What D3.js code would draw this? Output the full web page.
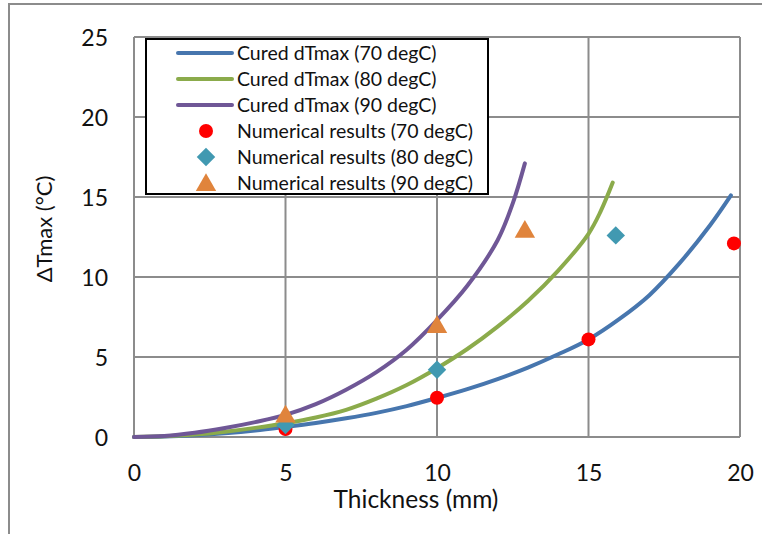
<!DOCTYPE html>
<html>
<head>
<meta charset="utf-8">
<script src="https://cdn.jsdelivr.net/npm/d3@7"></script>
<style>
  body { margin: 0; background: #fff; }
  text { font-family: Lato, "Open Sans", sans-serif; fill: #111; }
</style>
</head>
<body>
<svg id="chart" width="762" height="534"></svg>
<script>
// curve data (thickness in mm, dTmax in degC)
var thick70 = [0, 1, 2, 3, 4, 5, 6, 7, 8, 9, 10, 11, 12, 13, 14, 15, 16, 17, 18, 19, 19.7];
var cured70 = [0, 0.03, 0.11, 0.23, 0.4, 0.63, 0.88, 1.17, 1.51, 1.93, 2.44, 2.99, 3.62, 4.34, 5.17, 6.1, 7.35, 8.85, 10.85, 13.2, 15.1];

var thick80 = [0, 1, 2, 3, 4, 5, 6, 7, 8, 9, 10, 11, 12, 13, 14, 15, 15.4, 15.8];
var cured80 = [0, 0.04, 0.15, 0.33, 0.57, 0.86, 1.22, 1.7, 2.4, 3.25, 4.3, 5.5, 6.9, 8.5, 10.4, 12.7, 14.1, 15.9];

var thick90 = [0, 1, 2, 3, 4, 5, 6, 7, 8, 9, 10, 11, 12, 12.5, 12.9];
var cured90 = [0, 0.06, 0.26, 0.56, 0.93, 1.38, 2.05, 2.95, 4.05, 5.45, 7.3, 9.45, 12.3, 14.6, 17.1];

// numerical results
var numX70 = [5, 10, 15, 19.8];
var numY70 = [0.5, 2.45, 6.1, 12.1];
var numX80 = [5, 10, 15.9];
var numY80 = [0.75, 4.2, 12.6];
var numX90 = [5, 10, 12.9];
var numY90 = [1.4, 7.0, 12.95];

var xTicks = [0, 5, 10, 15, 20];
var yTicks = [0, 5, 10, 15, 20, 25];

var legendNames = [
    "Cured dTmax (70 degC)",
    "Cured dTmax (80 degC)",
    "Cured dTmax (90 degC)",
    "Numerical results (70 degC)",
    "Numerical results (80 degC)",
    "Numerical results (90 degC)"
];

var svg = d3.select("#chart");

// outer chart frame
svg.append("rect")
    .attr("x", 9).attr("y", 4)
    .attr("width", 780).attr("height", 560)
    .attr("fill", "none")
    .attr("stroke", "#8c8c8c")
    .attr("stroke-width", 2);

var plotLeft = 134, plotRight = 740, plotTop = 37, plotBottom = 437;

var x = d3.scaleLinear().domain([0, 20]).range([plotLeft, plotRight]);
var y = d3.scaleLinear().domain([0, 25]).range([plotBottom, plotTop]);

// gridlines
svg.append("g").selectAll("line")
    .data(xTicks).enter().append("line")
    .attr("x1", function(d) { return x(d); })
    .attr("x2", function(d) { return x(d); })
    .attr("y1", plotTop).attr("y2", plotBottom)
    .attr("stroke", "#8c8c8c").attr("stroke-width", 2);

svg.append("g").selectAll("line")
    .data(yTicks).enter().append("line")
    .attr("y1", function(d) { return y(d); })
    .attr("y2", function(d) { return y(d); })
    .attr("x1", plotLeft).attr("x2", plotRight)
    .attr("stroke", "#8c8c8c").attr("stroke-width", 2);

// axes (labels only, the lines come from the grid)
var xAxis = svg.append("g")
    .attr("transform", "translate(0," + plotBottom + ")")
    .call(d3.axisBottom(x).tickValues(xTicks).tickSize(0).tickPadding(28));
var yAxis = svg.append("g")
    .attr("transform", "translate(" + plotLeft + ",0)")
    .call(d3.axisLeft(y).tickValues(yTicks).tickSize(0).tickPadding(26));
[xAxis, yAxis].forEach(function(a) {
    a.select(".domain").remove();
    a.selectAll("text")
        .style("font-family", "Lato, sans-serif")
        .style("font-size", "23px")
        .attr("fill", "#111");
});
yAxis.selectAll("text").attr("dy", "0.36em");

// axis titles
svg.append("text")
    .attr("x", 416).attr("y", 508)
    .attr("text-anchor", "middle")
    .style("font-size", "24.5px")
    .text("Thickness (mm)");

svg.append("text")
    .attr("transform", "translate(52,229) rotate(-90)")
    .attr("text-anchor", "middle")
    .style("font-size", "22px")
    .text("\u0394Tmax (\u00B0C)");

// curves
var line = d3.line()
    .x(function(d) { return x(d[0]); })
    .y(function(d) { return y(d[1]); })
    .curve(d3.curveCatmullRom.alpha(0.5));

var curves = [
    { xs: thick70, ys: cured70, color: "#4776ae" },
    { xs: thick80, ys: cured80, color: "#8bab4b" },
    { xs: thick90, ys: cured90, color: "#6f5796" }
];

curves.forEach(function(c) {
    svg.append("path")
        .datum(d3.zip(c.xs, c.ys))
        .attr("d", line)
        .attr("fill", "none")
        .attr("stroke", c.color)
        .attr("stroke-width", 4)
        .attr("stroke-linecap", "round");
});

// markers
var red = "#ff0000", teal = "#4199b1", orange = "#e0843c";
var diamond = d3.symbol().type(d3.symbolSquare).size(170);
var triangle = d3.symbol().type(d3.symbolTriangle).size(180);

svg.append("g").selectAll("circle")
    .data(d3.zip(numX70, numY70)).enter().append("circle")
    .attr("cx", function(d) { return x(d[0]); })
    .attr("cy", function(d) { return y(d[1]); })
    .attr("r", 7)
    .attr("fill", red);

svg.append("g").selectAll("path")
    .data(d3.zip(numX80, numY80)).enter().append("path")
    .attr("d", diamond)
    .attr("transform", function(d) { return "translate(" + x(d[0]) + "," + y(d[1]) + ") rotate(45)"; })
    .attr("fill", teal);

svg.append("g").selectAll("path")
    .data(d3.zip(numX90, numY90)).enter().append("path")
    .attr("d", triangle)
    .attr("transform", function(d) { return "translate(" + x(d[0]) + "," + (y(d[1]) + 2) + ")"; })
    .attr("fill", orange);

// legend
var lg = svg.append("g");
lg.append("rect")
    .attr("x", 146).attr("y", 39)
    .attr("width", 342).attr("height", 155)
    .attr("fill", "#fff")
    .attr("stroke", "#000")
    .attr("stroke-width", 2);

legendNames.forEach(function(name, i) {
    var cy = 53 + i * 26;
    if (i < 3) {
        lg.append("line")
            .attr("x1", 178).attr("x2", 232)
            .attr("y1", cy).attr("y2", cy)
            .attr("stroke", curves[i].color)
            .attr("stroke-width", 4)
            .attr("stroke-linecap", "round");
    } else if (i === 3) {
        lg.append("circle").attr("cx", 206).attr("cy", cy).attr("r", 7).attr("fill", red);
    } else if (i === 4) {
        lg.append("path").attr("d", diamond)
            .attr("transform", "translate(206," + cy + ") rotate(45)")
            .attr("fill", teal);
    } else {
        lg.append("path").attr("d", triangle)
            .attr("transform", "translate(206," + (cy + 2) + ")")
            .attr("fill", orange);
    }
    lg.append("text")
        .attr("x", 237).attr("y", cy + 7)
        .style("font-size", "19.5px")
        .text(name);
});
</script>
</body>
</html>
